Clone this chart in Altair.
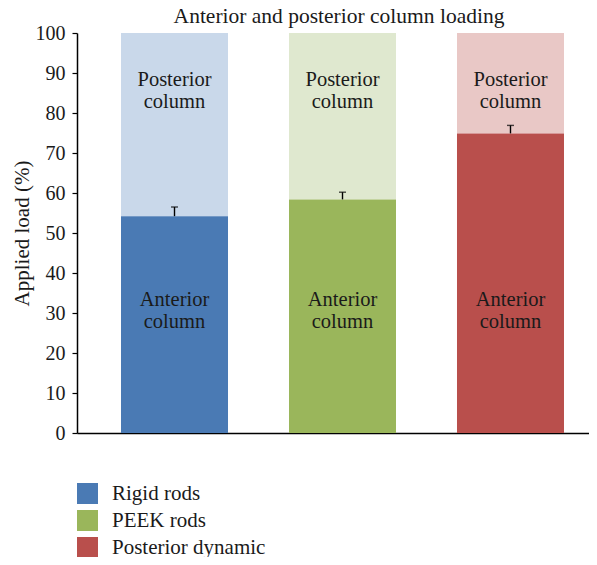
import altair as alt
import pandas as pd

groups = ["Rigid rods", "PEEK rods", "Posterior dynamic"]
anterior = [54.2, 58.4, 74.9]
err_upper = [56.5, 60.2, 76.9]
dark_colors = ["#4A7AB4", "#9AB65B", "#B94F4C"]
light_colors = ["#C9D8EA", "#DFE8CF", "#E9C8C6"]
light_keys = ["Rigid rods (posterior)", "PEEK rods (posterior)", "Posterior dynamic (posterior)"]

df = pd.DataFrame({
    "group": groups,
    "pos": list(range(len(groups))),
    "anterior": anterior,
    "top": [100] * len(groups),
    "upper": err_upper,
    "lightkey": light_keys,
})

FONT = "Liberation Serif"
INK = "#1a1a1a"
BAR_W = 107

xscale = alt.Scale(domain=[-0.5804, 2.4673], nice=False, zero=False, padding=0)
xaxis = alt.Axis(title=None, labels=False, ticks=False, grid=False,
                 domainColor="black", domainWidth=1.5)
xenc = alt.X("pos:Q", scale=xscale, axis=xaxis)

yscale = alt.Scale(domain=[0, 100], nice=False, padding=0)
yaxis = alt.Axis(
    title="Applied load (%)",
    values=list(range(0, 101, 10)),
    grid=False,
    tickSize=5,
    tickWidth=1.2,
    tickColor="black",
    domainColor="black",
    domainWidth=1.5,
    labelFontSize=20,
    labelFont=FONT,
    labelColor=INK,
    labelPadding=7,
    titleFont=FONT,
    titleFontSize=21,
    titleFontWeight="normal",
    titleColor=INK,
    titlePadding=3,
)

base = alt.Chart(df)

post = base.mark_bar(size=BAR_W).encode(
    x=xenc,
    y=alt.Y("anterior:Q", scale=yscale, axis=yaxis),
    y2="top:Q",
    color=alt.Color("lightkey:N", sort=light_keys,
                    scale=alt.Scale(domain=light_keys, range=light_colors), legend=None),
)

ant = base.mark_bar(size=BAR_W).encode(
    x=xenc,
    y=alt.Y("anterior:Q", scale=yscale, axis=yaxis),
    y2=alt.Y2(datum=0),
    color=alt.Color(
        "group:N",
        sort=groups,
        scale=alt.Scale(domain=groups, range=dark_colors),
        legend=alt.Legend(
            title=None,
            orient="none",
            legendX=0,
            legendY=450,
            symbolType="square",
            symbolSize=441,
            symbolStrokeWidth=0,
            labelFont=FONT,
            labelFontSize=21,
            labelColor=INK,
            labelOffset=14,
            rowPadding=5,
            padding=0,
        ),
    ),
)

err = base.mark_rule(color="black", strokeWidth=1.4).encode(
    x=xenc, y=alt.Y("anterior:Q", scale=yscale, axis=yaxis), y2="upper:Q"
)
cap = base.mark_tick(color="black", thickness=1.4, size=7, orient="horizontal").encode(
    x=xenc, y=alt.Y("upper:Q", scale=yscale, axis=yaxis)
)

post_txt = base.mark_text(
    text="Posterior\ncolumn", lineBreak="\n", font=FONT, fontSize=20.5, lineHeight=22,
    baseline="middle", color=INK
).encode(x=xenc, y=alt.Y(datum=88.2, scale=yscale, axis=yaxis))

ant_txt = base.mark_text(
    text="Anterior\ncolumn", lineBreak="\n", font=FONT, fontSize=20.5, lineHeight=22,
    baseline="middle", color=INK
).encode(x=xenc, y=alt.Y(datum=33.2, scale=yscale, axis=yaxis))

chart = (
    alt.layer(post, ant, err, cap, post_txt, ant_txt)
    .resolve_scale(color="independent")
    .properties(
        width=512,
        height=400,
        autosize=alt.AutoSizeParams(type="none"),
        padding={"left": 69, "top": 25, "right": 0, "bottom": 124},
        title=alt.TitleParams(
            "Anterior and posterior column loading",
            font=FONT, fontSize=21.5, fontWeight="normal", color=INK,
            anchor="middle", offset=-4, dx=6,
        ),
    )
    .configure_view(stroke=None)
)

chart.save("out.html", embed_options={"renderer": "svg", "actions": False})
